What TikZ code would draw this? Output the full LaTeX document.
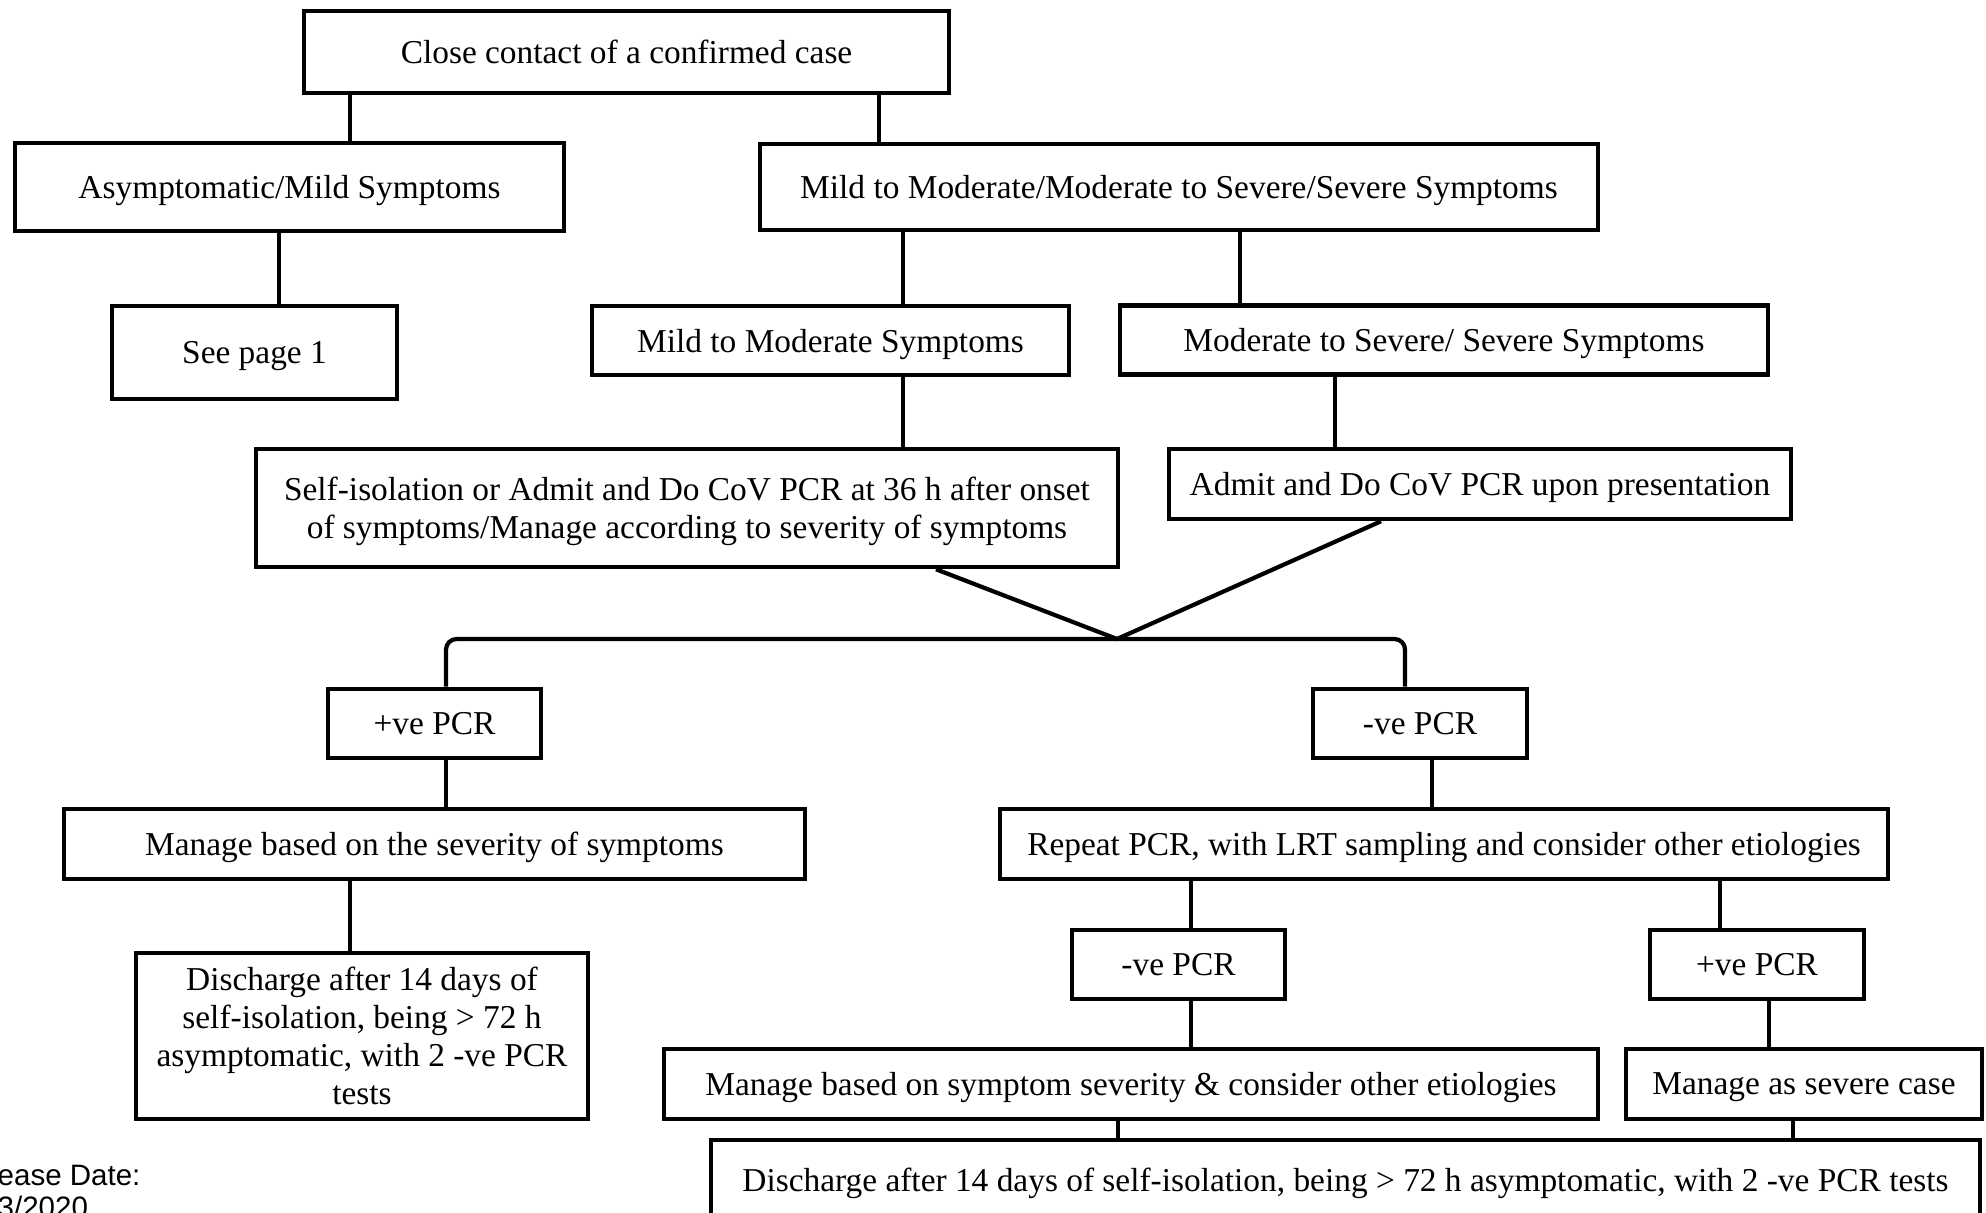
\documentclass[tikz,border=0pt]{standalone}
\usepackage{fontspec}
\setmainfont{Liberation Serif}
\newfontfamily\datefont{Liberation Sans}
\usepackage{tikz}

\begin{document}
\begin{tikzpicture}[
    box/.style={draw, line width=1.3pt, align=center, inner sep=0pt, text depth=0pt, font=\fontsize{9.5}{10.8}\selectfont},
    link/.style={line width=1.2pt}]
        % frame
    \useasboundingbox (0,0) rectangle (19.86,-12.13);
    \clip (0,0) rectangle (19.86,-12.13);

        % boxes
    \node[box, minimum width=6.45cm, minimum height=0.82cm] (top) at (6.265,-0.52) {Close contact of a confirmed case};
    \node[box, minimum width=5.49cm, minimum height=0.88cm] (asym) at (2.895,-1.87) {Asymptomatic/Mild Symptoms};
    \node[box, minimum width=8.38cm, minimum height=0.86cm] (mmss) at (11.79,-1.87) {Mild to Moderate/Moderate to Severe/Severe Symptoms};
    \node[box, minimum width=2.85cm, minimum height=0.93cm] (page) at (2.545,-3.525) {See page 1};
    \node[box, minimum width=4.77cm, minimum height=0.69cm] (mild) at (8.305,-3.405) {Mild to Moderate Symptoms};
    \node[box, minimum width=6.48cm, minimum height=0.69cm] (sev) at (14.44,-3.40) {Moderate to Severe/ Severe Symptoms};
    \node[box, minimum width=8.62cm, minimum height=1.18cm] (iso) at (6.87,-5.08) {Self-isolation or Admit and Do CoV PCR at 36 h after onset\\of symptoms/Manage according to severity of symptoms};
    \node[box, minimum width=6.22cm, minimum height=0.70cm] (admit) at (14.80,-4.84) {Admit and Do CoV PCR upon presentation};
    \node[box, minimum width=2.13cm, minimum height=0.69cm] (posA) at (4.345,-7.235) {+ve PCR};
    \node[box, minimum width=2.14cm, minimum height=0.69cm] (negA) at (14.20,-7.235) {-ve PCR};
    \node[box, minimum width=7.41cm, minimum height=0.70cm] (manA) at (4.345,-8.44) {Manage based on the severity of symptoms};
    \node[box, minimum width=8.88cm, minimum height=0.70cm] (rep) at (14.44,-8.44) {Repeat PCR, with LRT sampling and consider other etiologies};
    \node[box, minimum width=4.52cm, minimum height=1.66cm] (disA) at (3.62,-10.36) {Discharge after 14 days of\\self-isolation, being > 72 h\\asymptomatic, with 2 -ve PCR\\tests};
    \node[box, minimum width=2.13cm, minimum height=0.69cm] (negB) at (11.785,-9.645) {-ve PCR};
    \node[box, minimum width=2.14cm, minimum height=0.69cm] (posB) at (17.57,-9.645) {+ve PCR};
    \node[box, minimum width=9.34cm, minimum height=0.70cm] (manB) at (11.31,-10.84) {Manage based on symptom severity \& consider other etiologies};
    \node[box, minimum width=3.56cm, minimum height=0.70cm] (sevcase) at (18.04,-10.84) {Manage as severe case};
    \node[box, minimum width=12.69cm, minimum height=0.80cm] (disB) at (13.455,-11.80) {Discharge after 14 days of self-isolation, being > 72 h asymptomatic, with 2 -ve PCR tests};

        % release date
    \node[anchor=north west, align=left, inner sep=0pt, font=\datefont\fontsize{8.4}{9.2}\selectfont] (date) at (-0.03,-11.64) {ease Date:\\3/2020};

        % links
    \draw[link] (top.south -| 3.50,0) -- (asym.north -| 3.50,0);
    \draw[link] (top.south -| 8.79,0) -- (mmss.north -| 8.79,0);
    \draw[link] (asym.south -| 2.79,0) -- (page.north -| 2.79,0);
    \draw[link] (mmss.south -| 9.03,0) -- (mild.north -| 9.03,0);
    \draw[link] (mmss.south -| 12.40,0) -- (sev.north -| 12.40,0);
    \draw[link] (mild.south -| 9.03,0) -- (iso.north -| 9.03,0);
    \draw[link] (sev.south -| 13.35,0) -- (admit.north -| 13.35,0);

        % merge and split
    \coordinate (apex) at (11.17,-6.39);
    \draw[link] (iso.south -| 9.36,0) -- (apex) -- (admit.south -| 13.81,0);
    \draw[link, rounded corners=3pt] (posA.north -| 4.46,0) -- (apex -| 4.46,0) -- (apex -| 14.05,0) -- (negA.north -| 14.05,0);

    \draw[link] (posA.south -| 4.46,0) -- (manA.north -| 4.46,0);
    \draw[link] (manA.south -| 3.50,0) -- (disA.north -| 3.50,0);
    \draw[link] (negA.south -| 14.32,0) -- (rep.north -| 14.32,0);
    \draw[link] (rep.south -| 11.91,0) -- (negB.north -| 11.91,0);
    \draw[link] (rep.south -| 17.20,0) -- (posB.north -| 17.20,0);
    \draw[link] (negB.south -| 11.91,0) -- (manB.north -| 11.91,0);
    \draw[link] (posB.south -| 17.69,0) -- (sevcase.north -| 17.69,0);
    \draw[link] (manB.south -| 11.18,0) -- (disB.north -| 11.18,0);
    \draw[link] (sevcase.south -| 17.93,0) -- (disB.north -| 17.93,0);
\end{tikzpicture}
\end{document}
